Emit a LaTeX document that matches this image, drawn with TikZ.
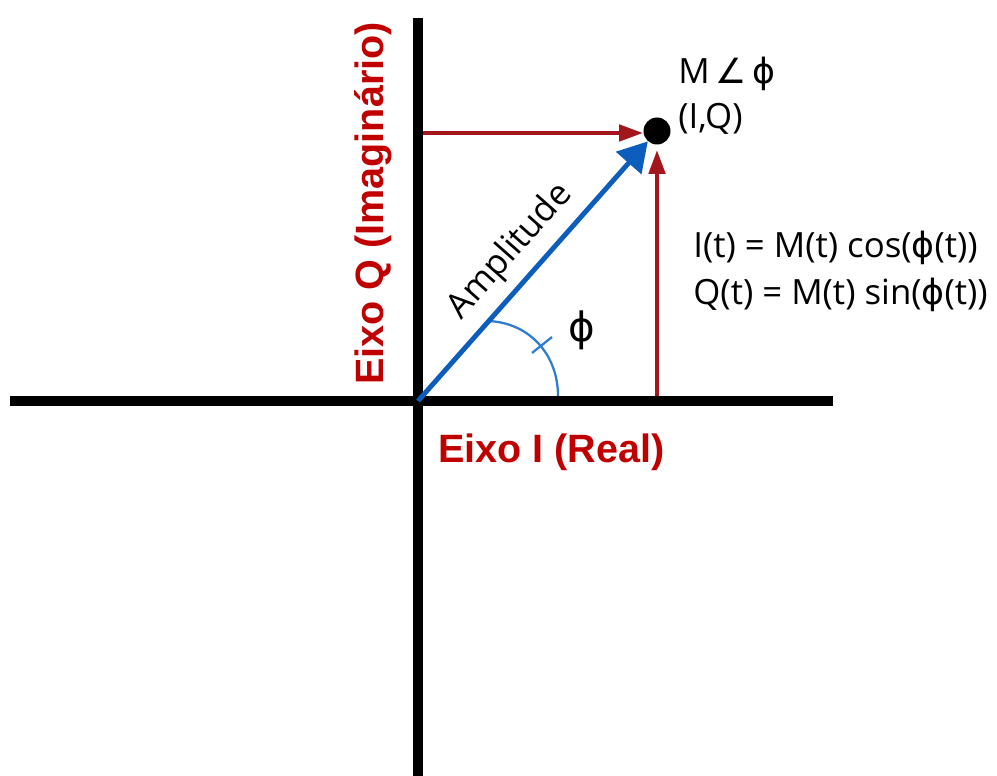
\documentclass[tikz,border=0pt]{standalone}
\usepackage{fontspec}
\setmainfont{Open Sans}
\newfontfamily\eixofont{Liberation Sans}
\newfontfamily\simbolofont{DejaVu Sans}
\newcommand{\fase}{{\simbolofont ϕ}}
\usetikzlibrary{arrows.meta}
\definecolor{eixovermelho}{HTML}{C00000}
\definecolor{setavermelha}{HTML}{A3161C}
\definecolor{azulvetor}{HTML}{0D5EBC}
\definecolor{azularco}{HTML}{2F7DD2}
\begin{document}
\begin{tikzpicture}[x=0.02cm, y=-0.02cm,
    eixo/.style={line width=5.6pt, black},
    projecao/.style={line width=2.6pt, setavermelha,
      -{Triangle[length=0.48cm, width=0.32cm]}},
    rotulo/.style={font=\eixofont\bfseries\fontsize{22.5}{27}\selectfont,
      text=eixovermelho, inner sep=0pt},
    texto/.style={font=\fontsize{19.8}{24}\selectfont, inner sep=0pt},
    ponto/.style={circle, fill=black, inner sep=0pt, minimum size=0.54cm}]
  \useasboundingbox (0,0) rectangle (997,776);
  % pontos principais
  \coordinate (O) at (418,401);
  \node[ponto] (P) at (657,131) {};
  % arco do angulo
  \path (O) -- (P) coordinate[pos=0.308] (A1);
  \coordinate (A2) at (558,396);
  \draw[azularco, line width=1.3pt] (A1) .. controls (530,323) and (558,355) .. (A2);
  \coordinate (m1) at (532,353);
  \coordinate (m2) at (552,337);
  \draw[azularco, line width=1.3pt] (m1) -- (m2);
  % eixos
  \coordinate (xesq) at (10,401);
  \coordinate (xdir) at (833,401);
  \coordinate (ytopo) at (418,18);
  \coordinate (ybase) at (418,776);
  \draw[eixo] (xesq) -- (xdir);
  \draw[eixo] (ytopo) -- (ybase);
  % projecoes
  \coordinate (Qeixo) at (423,133);
  \coordinate (Ieixo) at (657,396);
  \draw[projecao] (Qeixo) -- (Qeixo -| P.west);
  \draw[projecao, shorten >=0.1cm] (Ieixo) -- (Ieixo |- P.south);
  % vetor
  \draw[line width=2.8pt, azulvetor, -{Triangle[length=0.58cm, width=0.66cm]}]
    (O) -- (P) node[texto, pos=0.5, sloped, above=0.2cm, text=black] (amp) {Amplitude};
  % textos
  \node[texto, font=\fontsize{23}{28}\selectfont] (phi) at (582,330) {\fase};
  \node[texto, anchor=base west] (mag) at (678,84) {M\,{\simbolofont ∠}\,\fase};
  \node[texto, anchor=base west] (iq) at (678,129) {(I,Q)};
  \node[texto, anchor=base west] (eqI) at (693,258) {I(t) = M(t) cos(\fase(t))};
  \node[texto, anchor=base west] (eqQ) at (693,305) {Q(t) = M(t) sin(\fase(t))};
  \node[rotulo, anchor=base west] (eixoI) at (438,463) {Eixo I (Real)};
  \node[rotulo, rotate=90, anchor=base west] (eixoQ) at (383,385) {Eixo Q (Imaginário)};
\end{tikzpicture}
\end{document}
